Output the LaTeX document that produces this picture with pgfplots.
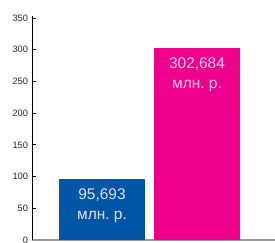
\documentclass[border=0pt]{standalone}
\usepackage{fontspec}
\setmainfont{Liberation Sans}
\usepackage{pgfplots}
\pgfplotsset{compat=1.18}
\definecolor{barblue}{HTML}{0055A5}
\definecolor{barpink}{HTML}{EC008C}
\begin{document}
\begin{tikzpicture}
\begin{axis}[
  scale only axis,
  width=243bp, height=223.9bp,
  xmin=32, xmax=275,
  ymin=0, ymax=353,
  axis lines=left,
  axis line style={-},
  x axis line style={draw=gray!80, line width=1.3pt},
  y axis line style={draw=black, line width=0.8pt},
  xtick=\empty,
  ytick={0,50,...,350},
  tick align=inside,
  major tick length=4bp,
  y tick style={black, line width=0.8pt},
  tick label style={font=\fontsize{9.3}{11}\selectfont, text=black!85},
  /pgf/number format/assume math mode=true,
  yticklabel style={xshift=-0.5bp},
  ybar, bar width=86bp, bar shift=0pt,
  point meta=explicit,
  nodes near coords={\pgfmathprintnumber[fixed,fixed zerofill,precision=3,use comma]{\pgfplotspointmeta}\\млн.\ р.},
  every node near coord/.append style={anchor=north, align=center, yshift=-6bp,
    font=\fontsize{15.5}{20}\selectfont},
]
\addplot[fill=barblue, draw=none, every node near coord/.append style={text=white!88!blue}] coordinates {(102,95.693) [95.693]};
\addplot[fill=barpink, draw=none, every node near coord/.append style={text=white!80!barpink}] coordinates {(197,302.684) [302.684]};
\coordinate (bl) at (axis cs:0,-3.15);
\coordinate (tr) at (axis cs:275,378.4);
\end{axis}
\pgfresetboundingbox
\path[use as bounding box] (bl) rectangle (tr);
\end{tikzpicture}
\end{document}
